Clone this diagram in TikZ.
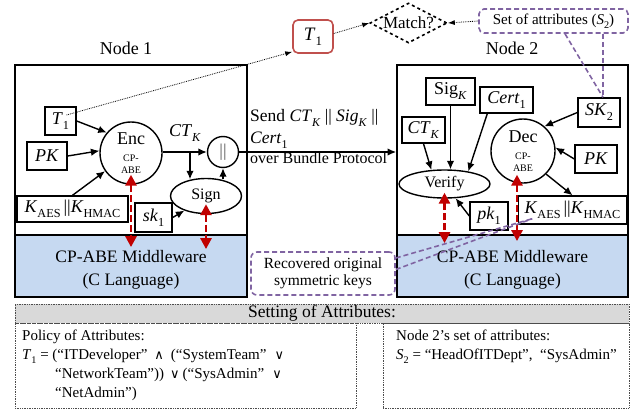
\documentclass[tikz,border=0pt]{standalone}
\usepackage{fontspec}
\setmainfont{Liberation Serif}
\newfontfamily\dejavu{DejaVu Sans}
\usepackage{graphicx}
\usetikzlibrary{arrows.meta,shapes.geometric,calc}
\definecolor{mwblue}{HTML}{C6D9F1}
\definecolor{redarr}{HTML}{C00000}
\definecolor{redbox}{HTML}{C0504D}
\definecolor{purp}{HTML}{8064A2}
\definecolor{hdrgray}{HTML}{D9D9D9}
\newcommand{\lo}[1]{\raisebox{-0.28em}{\scalebox{0.68}{#1}}}
\newcommand{\fs}[2]{\fontsize{#1}{#2}\selectfont}
\newcommand{\AND}{{\dejavu\fontsize{13}{13}\selectfont ∧}}
\newcommand{\OR}{{\dejavu\fontsize{13}{13}\selectfont ∨}}
\tikzset{
  nodeframe/.style={draw, line width=1.8pt, inner sep=0pt},
  mw/.style={draw, fill=mwblue, line width=1.8pt, inner sep=0pt},
  mwtext/.style={inner sep=0pt, align=center, font=\fs{17.5}{23}},
  box/.style={draw, line width=1.4pt, inner sep=0pt, font=\fs{18}{20}},
  proc/.style={circle, draw, line width=1.4pt, inner sep=0pt, align=center},
  oval/.style={ellipse, draw, line width=1.4pt, inner sep=0pt, font=\fs{16}{18}},
  arr/.style={line width=1.4pt, -{Latex[length=8.5pt,width=7.5pt]}},
  redd/.style={draw=redarr, line width=2.8pt, dash pattern=on 7pt off 3pt,
     {Triangle[length=11pt,width=11pt]}-{Triangle[length=11pt,width=11pt]}},
  dotarr/.style={densely dotted, line width=0.8pt, -{Latex[length=7pt,width=5pt]}},
  purpdash/.style={draw=purp, line width=1.6pt, dash pattern=on 5pt off 3pt},
  attrbox/.style={draw=gray!60!black, densely dotted, line width=0.7pt, inner sep=0pt}
}
\begin{document}
\begin{tikzpicture}[x=1pt,y=-1pt]
\useasboundingbox (0,0) rectangle (642,412);

% ---------- Node frames ----------
\node[nodeframe, minimum width=232, minimum height=232] (n1) at (131,181) {};
\node[mw, minimum width=232, minimum height=62] (mw1) at (131,266) {};
\node[mwtext] (mw1txt) at (131,270) {CP-ABE Middleware\\(C Language)};
\node[nodeframe, minimum width=231, minimum height=232] (n2) at (512.5,181) {};
\node[mw, minimum width=231, minimum height=62] (mw2) at (512.5,266) {};
\node[mwtext] (mw2txt) at (512.5,270) {CP-ABE Middleware\\(C Language)};
\node[font=\fs{18}{18}] (lbl1) at (126,48) {Node 1};
\node[font=\fs{18}{18}] (lbl2) at (512,48) {Node 2};

% ---------- top ----------
\node[draw=redbox, line width=1.6pt, rounded corners=5pt, minimum width=40, minimum height=33,
      inner sep=0pt, font=\fs{19}{20}] (t1red) at (313,36.5) {\textit{T}\lo{1}};
\node[diamond, draw, dashed, line width=1.6pt, minimum width=77, minimum height=40, inner sep=0pt,
      label={[font=\fs{17}{17}]center:Match?}] (match) at (408.5,23) {};
\node[draw=purp, line width=1.6pt, dash pattern=on 5pt off 3pt, rounded corners=5pt, minimum width=149,
      minimum height=24, inner sep=0pt, font=\fs{15}{16}] (setattr) at (553.5,21) {Set of attributes (\textit{S}\lo{2})};

% ---------- Node 1 inside ----------
\node[box, minimum width=31, minimum height=28] (t1a) at (60.5,121) {\textit{T}\lo{1}};
\node[box, minimum width=40, minimum height=28] (pk1) at (47,156) {\textit{PK}};
\node[box, minimum width=111, minimum height=26] (kaes1) at (72.5,209) {\textit{K}\lo{AES}\,||\textit{K}\lo{HMAC}};
\node[proc, minimum size=62] (enc) at (131,153) {\fs{18}{18}Enc\\[5pt]\fs{10}{12}CP-\\\fs{10}{12}ABE};
\node[font=\fs{18}{18}] (ctk) at (185,133) {\textit{CT}\lo{\textit{K}}};
\node[proc, minimum size=31, font=\fs{18}{18}] (cat) at (223,152) {\color{gray!70!black}||};
\node[oval, minimum width=71, minimum height=35] (sign) at (206,196) {Sign};
\node[box, minimum width=37, minimum height=29] (sk1) at (153.5,217.5) {\textit{sk}\lo{1}};
\coordinate (split) at (190,152);

\draw[arr] (t1a.east) -- (enc.140);
\draw[arr] (pk1.east) -- (enc.176);
\draw[arr] (kaes1.north) -- (enc.215);
\draw[arr] (enc.east |- cat.west) -- (cat.west);
\draw[arr] (split) -- ([yshift=-1.5pt]split |- sign.north);
\draw[arr] ([yshift=-1.5pt]cat.south |- sign.north) -- (cat.south);
\draw[arr] (sk1.east) -- (sign.214);
\draw[arr] (cat.east) -- (cat.east -| n2.west);

\node[anchor=north west, inner sep=0pt, align=left, font=\fs{17.5}{22}] (send) at (250,109)
  {Send \textit{CT}\lo{\textit{K}} || \textit{Sig}\lo{\textit{K}} ||\\\textit{Cert}\lo{1}\\[-2pt]\fs{16}{20}over Bundle Protocol};

% ---------- Node 2 inside ----------
\node[box, minimum width=49, minimum height=27] (sigk) at (450.5,91.5) {Sig\lo{\textit{K}}};
\node[box, minimum width=53, minimum height=26] (cert) at (506.5,100) {\textit{Cert}\lo{1}};
\node[box, minimum width=43, minimum height=26] (ctk2) at (423.5,130) {\textit{CT}\lo{\textit{K}}};
\node[box, minimum width=42, minimum height=29] (sk2) at (599,112.5) {\textit{SK}\lo{2}};
\node[proc, minimum size=64] (dec) at (523,151) {\fs{18}{18}Dec\\[5pt]\fs{10}{12}CP-\\\fs{10}{12}ABE};
\node[box, minimum width=42, minimum height=28] (pk2) at (596,159) {\textit{PK}};
\node[oval, minimum width=91, minimum height=28] (verify) at (444.5,184) {Verify};
\node[box, minimum width=38, minimum height=28] (pkone) at (489,216) {\textit{pk}\lo{1}};
\node[box, minimum width=108, minimum height=28] (kaes2) at (572.5,210) {\textit{K}\lo{AES}\,||\textit{K}\lo{HMAC}};

\draw[arr] (ctk2.south) -- (verify.133);
\draw[arr] (sigk.south) -- (sigk.south |- verify.north);
\draw[arr] ([xshift=8pt]cert.south west) -- (verify.28);
\draw[arr] (pkone.west) -- (verify.308);
\draw[arr] (sk2.west) -- (dec.49);
\draw[arr] (pk2.west) -- (dec.6);
\draw[arr] (dec.315) -- (kaes2.north);

% ---------- red arrows ----------
\draw[redd] ([yshift=10pt]enc.south) -- ([yshift=-13pt]enc.south |- mw1.north);
\draw[redd] ([yshift=10pt]sign.south) -- ([yshift=-15pt]sign.south |- mw1.north);
\draw[redd] ([yshift=6pt]verify.south) -- ([yshift=-9pt]verify.south |- mw2.north);
\draw[redd] ([xshift=-6pt,yshift=9pt]dec.south) -- ([xshift=-6pt,yshift=-7pt]dec.south |- mw2.north);

% ---------- dotted arrows ----------
\draw[dotarr] ([xshift=6pt,yshift=6pt]t1a.center) -- ([yshift=2pt]t1red.south west);
\draw[dotarr] ([yshift=3pt]t1red.east) -- (match.west);
\draw[dotarr] (setattr.west) -- (match.east);

% ---------- purple callouts ----------
\draw[purpdash] ($(setattr.south)+(11.5,0)$) -- ($(sk2.north)+(4,0)$);
\draw[purpdash] ($(setattr.south)+(49.5,0)$) -- ($(sk2.north)+(4,0)$);
\node[draw=purp, line width=1.6pt, dash pattern=on 5pt off 3pt, rounded corners=6pt, fill=white,
      minimum width=144, minimum height=43, inner sep=0pt, align=center, font=\fs{15.5}{17}]
      (recov) at (323,273.5) {Recovered original\\symmetric keys};
\coordinate (rk) at ($(kaes2.south west)+(14.5,-6)$);
\draw[purpdash] ($(recov.east)+(0,-15.5)$) -- (rk);
\draw[purpdash] ($(recov.east)+(0,-4)$) -- (rk);

% ---------- bottom ----------
\node[attrbox, fill=hdrgray, minimum width=614, minimum height=19, font=\fs{17.5}{17}] (hdr) at (322,313.5) {Setting of Attributes:};
\node[attrbox, minimum width=341, minimum height=85] (polbox) at (185.5,365.5) {};
\node[attrbox, minimum width=246, minimum height=85] (s2box) at (506,365.5) {};
\node[anchor=north west, inner sep=0pt, align=left, font=\fs{15}{19}] (poltxt) at (22,330)
  {Policy of Attributes:\\
   \textit{T}\lo{1} = (“ITDeveloper”\hspace{7pt}\AND\hspace{7pt}(“SystemTeam”\hspace{8pt}\OR\\
   \hspace*{33pt}“NetworkTeam”))\hspace{6pt}\OR\hspace{3pt}(“SysAdmin”\hspace{8pt}\OR\\
   \hspace*{33pt}“NetAdmin”)};
\node[anchor=north west, inner sep=0pt, align=left, font=\fs{15}{19}] (s2txt) at (396,330)
  {Node 2’s set of attributes:\\
   \textit{S}\lo{2} = “HeadOfITDept”,~~“SysAdmin”};
\end{tikzpicture}
\end{document}
